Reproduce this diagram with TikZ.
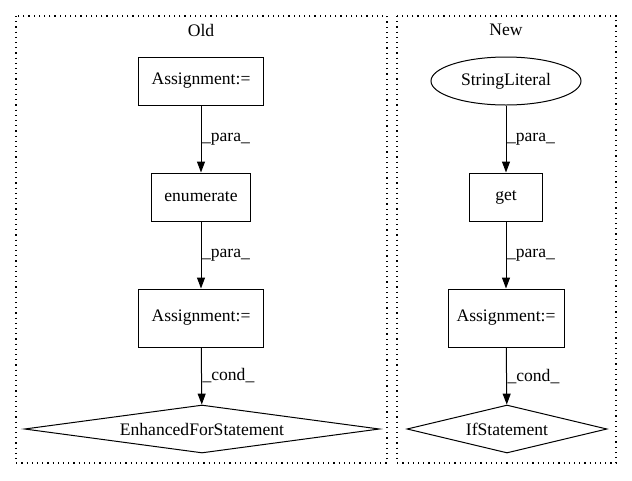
\documentclass[tikz,border=0pt]{standalone}
\usepackage{fontspec}
\setmainfont{Liberation Serif}
\usetikzlibrary{shapes.geometric,arrows.meta}
\begin{document}
\begin{tikzpicture}[x=1pt,y=-1pt,
  txt/.style={font=\fontsize{17.6}{20}\selectfont},
  box/.style={draw,rectangle,line width=1pt,inner sep=0pt,txt},
  oval/.style={draw,ellipse,line width=1pt,inner sep=0pt,txt},
  dia/.style={draw,diamond,aspect=7.5,line width=1pt,inner sep=0pt,txt},
  cluster/.style={draw,dash pattern=on 1.2pt off 4pt,line width=1.2pt},
  edge/.style={-{Triangle[length=11pt,width=8pt]},line width=1pt},
  elabel/.style={right,inner sep=0.5pt,txt},
  title/.style={txt}]
\useasboundingbox (0,0) rectangle (632,480);
% clusters
\draw[cluster] (16,16) rectangle (387,463);
\draw[cluster] (397,16) rectangle (616,463);
\node[title] (told) at (201,30) {Old};
\node[title] (tnew) at (506,30) {New};
% Old
\node[box,minimum width=125pt,minimum height=48pt] (a1) at (201,81) {Assignment:=};
\node[box,minimum width=99pt,minimum height=48pt] (en) at (201,197) {enumerate};
\node[box,minimum width=125pt,minimum height=58pt] (a2) at (201,318) {Assignment:=};
\node[dia,minimum width=355pt,minimum height=48pt] (efs) at (202,429) {EnhancedForStatement};
\draw[edge] (a1) -- node[elabel] {\_para\_} (en);
\draw[edge] (en) -- node[elabel] {\_para\_} (a2);
\draw[edge] (a2) -- node[elabel] {\_cond\_} (efs);
% New
\node[oval,minimum width=150pt,minimum height=48pt] (sl) at (506,81) {StringLiteral};
\node[box,minimum width=73pt,minimum height=48pt] (get) at (506,197) {get};
\node[box,minimum width=116pt,minimum height=58pt] (a3) at (506,318) {Assignment:=};
\node[dia,minimum width=200pt,minimum height=48pt] (ifs) at (507,429) {IfStatement};
\draw[edge] (sl) -- node[elabel] {\_para\_} (get);
\draw[edge] (get) -- node[elabel] {\_para\_} (a3);
\draw[edge] (a3) -- node[elabel] {\_cond\_} (ifs);
\end{tikzpicture}
\end{document}
